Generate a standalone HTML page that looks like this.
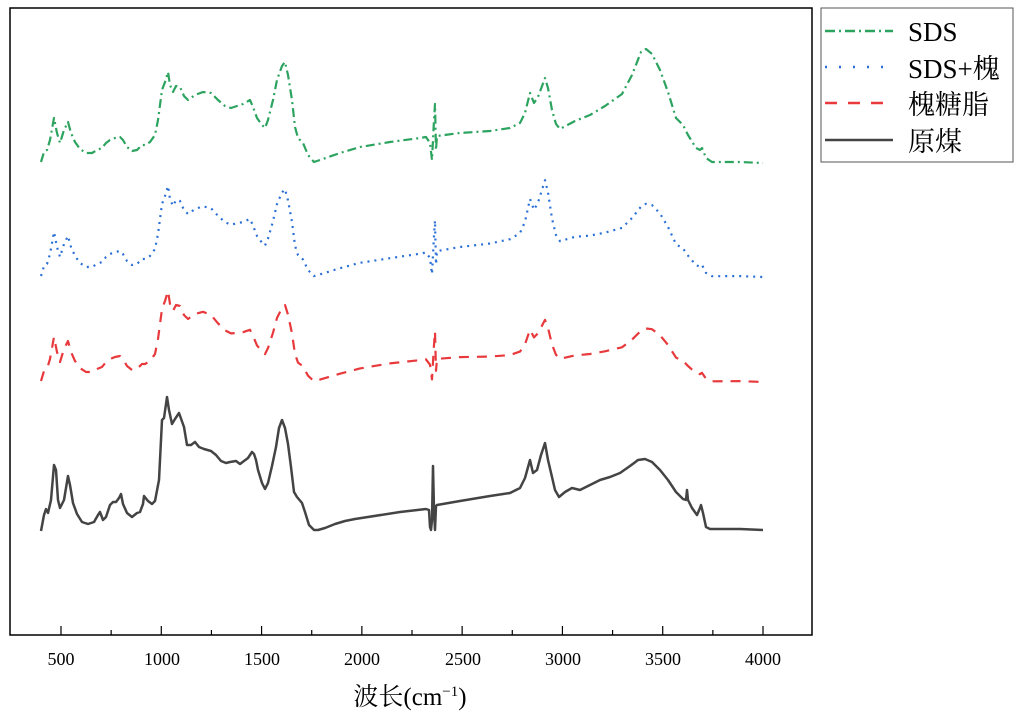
<!DOCTYPE html>
<html><head><meta charset="utf-8"><style>
body{margin:0;background:#fff;width:1024px;height:718px;overflow:hidden}
text{font-family:"Liberation Serif","Noto Serif CJK SC","Noto Sans CJK SC",serif}
</style></head><body>
<svg id="s" width="1024" height="718" xmlns="http://www.w3.org/2000/svg">
<rect x="10" y="8" width="802" height="627" fill="none" stroke="#000" stroke-width="1.5"/>
<g id="ticks" stroke="#000" stroke-width="1.2"></g>
<g font-size="18" text-anchor="middle" fill="#000">
<text x="61" y="665">500</text><text x="162" y="665">1000</text><text x="262" y="665">1500</text><text x="362" y="665">2000</text><text x="463" y="665">2500</text><text x="563" y="665">3000</text><text x="663" y="665">3500</text><text x="763" y="665">4000</text>
</g>
<text x="410" y="705" font-size="25" text-anchor="middle">波长(cm<tspan font-size="15" dy="-9">−1</tspan><tspan dy="9">)</tspan></text>
<g id="curves" fill="none" stroke-linejoin="round"></g>
<rect x="821" y="8" width="192" height="154" fill="#fff" stroke="#555" stroke-width="1"/>
<line x1="825" y1="31" x2="893" y2="31" stroke="#2ca35f" stroke-width="2.5" stroke-dasharray="10,4,2,4"/>
<line x1="825" y1="67" x2="893" y2="67" stroke="#2a6fd6" stroke-width="2.5" stroke-dasharray="2,12"/>
<line x1="825" y1="103" x2="893" y2="103" stroke="#e8393c" stroke-width="2.5" stroke-dasharray="12,11"/>
<line x1="825" y1="140" x2="893" y2="140" stroke="#444" stroke-width="2.5"/>
<g font-size="27" fill="#000">
<text x="908" y="41">SDS</text><text x="908" y="78">SDS+槐</text><text x="908" y="114">槐糖脂</text><text x="908" y="151">原煤</text>
</g>
</svg>
<script>
var NS="http://www.w3.org/2000/svg";
var tk=document.getElementById("ticks");
for(var v=500;v<=4000;v+=250){var x=61+(v-500)*702/3500;var l=document.createElementNS(NS,"line");
l.setAttribute("x1",x);l.setAttribute("x2",x);l.setAttribute("y1",v%500==0?626:630);l.setAttribute("y2",635);tk.appendChild(l);}
var black=[[41,531],[44,515],[46,509],[48,513],[51,500],[54,465],[56,470],[58,500],[60,508],[64,500],[68,476],[70,485],[73,503],[77,514],[82,522],[88,524],[94,522],[98,515],[100,512],[103,520],[106,517],[110,505],[113,502],[116,502],[119,498],[121,494],[123,504],[127,513],[132,517],[137,513],[140,512],[143,504],[144,496],[148,501],[152,504],[155,501],[159,480],[162,420],[164,418],[167,397],[169,410],[172,424],[175,419],[179,413],[184,427],[187,445],[191,445],[195,442],[199,447],[204,449],[211,451],[216,455],[221,461],[226,463],[230,462],[236,461],[240,464],[244,461],[248,458],[250,455],[252,452],[254,454],[256,460],[258,470],[262,483],[265,489],[268,483],[272,466],[276,447],[279,428],[282,420],[285,428],[288,444],[291,467],[294,492],[297,497],[302,503],[305,512],[309,525],[314,530],[318,530],[325,528],[335,524],[345,521],[355,519],[400,512],[426,509],[429,510],[430,527],[431,530],[432,520],[433,466],[434,510],[435,530],[436,506],[437,505],[460,501],[490,496],[510,493],[520,488],[525,478],[530,460],[533,473],[537,470],[541,455],[545,443],[548,460],[552,477],[555,490],[559,497],[565,492],[572,488],[580,490],[590,485],[600,480],[610,477],[620,473],[630,466],[638,460],[645,459],[652,462],[660,470],[668,480],[676,492],[683,499],[686,500],[687,490],[688,500],[692,508],[697,515],[700,508],[701,505],[703,513],[706,527],[710,529],[740,529],[763,530]];
var green=[[41,162],[44,152],[47,150],[50,140],[54,118],[57,133],[60,143],[64,130],[68,122],[71,133],[75,142],[80,149],[86,153],[92,153],[97,150],[102,148],[106,143],[110,140],[115,138],[120,137],[123,140],[127,147],[132,151],[137,150],[142,145],[145,145],[150,142],[155,135],[158,120],[162,90],[165,82],[168,72],[170,85],[173,92],[176,86],[180,87],[184,96],[188,100],[195,95],[203,92],[211,93],[218,100],[225,106],[231,108],[237,106],[243,104],[250,100],[253,107],[257,118],[262,125],[265,128],[268,120],[273,100],[277,80],[282,66],[285,62],[288,75],[292,100],[295,127],[298,138],[303,143],[308,155],[314,162],[320,160],[340,153],[360,147],[390,142],[420,138],[426,137],[430,143],[432,160],[434,120],[435,104],[436,150],[437,136],[460,133],[490,131],[510,128],[520,123],[525,113],[530,93],[534,103],[538,97],[545,78],[548,88],[552,110],[556,124],[560,129],[575,121],[590,115],[605,106],[622,94],[632,75],[641,52],[646,49],[652,54],[660,70],[668,92],[676,118],[683,125],[688,135],[696,148],[700,150],[702,148],[706,158],[712,162],[740,162],[763,163]];
function interp(tab,x){if(x<=tab[0][0])return tab[0][1];for(var i=1;i<tab.length;i++){if(x<=tab[i][0]){var a=tab[i-1],b=tab[i];return a[1]+(b[1]-a[1])*(x-a[0])/(b[0]-a[0]);}}return tab[tab.length-1][1];}
var sBlue=[[41,1],[200,1],[283,0.87],[400,0.9],[546,1.14],[600,0.8],[642,0.63],[700,0.8],[763,1]];
var sRed=[[41,1],[200,1],[240,0.85],[283,0.76],[400,0.9],[546,0.73],[600,0.55],[642,0.46],[700,0.6],[763,1]];
function tr(base,s){return green.map(function(p){return [p[0],base-interp(s,p[0])*(163-p[1])];});}
var blue=tr(277,sBlue),red=tr(382,sRed);
function add(pts,col,dash,w){var p=document.createElementNS(NS,"polyline");p.setAttribute("points",pts.map(function(q){return q[0]+","+q[1].toFixed(1)}).join(" "));p.setAttribute("stroke",col);p.setAttribute("stroke-width",w);if(dash)p.setAttribute("stroke-dasharray",dash);document.getElementById("curves").appendChild(p);}
add(black,"#444",null,2.5);
add(red,"#e8393c","10,8",2.2);
add(blue,"#2a6fd6","2,5",2.2);
add(green,"#2ca35f","9,4,2,4",2.2);
</script>
</body></html>
